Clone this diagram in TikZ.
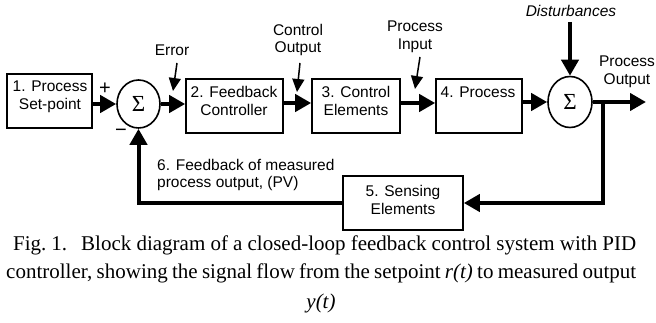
\documentclass[tikz,border=0pt]{standalone}
\usepackage{fontspec}
\setmainfont{Liberation Serif}
\setsansfont{Liberation Sans}
\usetikzlibrary{arrows.meta,shapes.geometric}
\begin{document}
\begin{tikzpicture}[x=1pt,y=-1pt,
  box/.style={draw,line width=1.6pt,inner sep=0pt},
  lbl/.style={font=\sffamily\fontsize{15.5}{17.5}\selectfont,align=center,inner sep=0pt},
  sign/.style={font=\sffamily\fontsize{20}{20}\selectfont,inner sep=0pt},
  sumnode/.style={draw,ellipse,line width=1.6pt,inner sep=0pt,font=\fontsize{23}{23}\selectfont},
  sig/.style={line width=4pt,-{Triangle[length=16pt,width=17pt]}},
  thinarrow/.style={line width=1.5pt,-{Triangle[length=13pt,width=12pt]}},
  capfont/.style={font=\fontsize{21}{21}\selectfont,inner sep=0pt}
]
\useasboundingbox (0,0) rectangle (656,323);

% blocks
\node[box,minimum width=85pt,minimum height=54pt] (b1) at (49.5,101) {};
\node[box,minimum width=97pt,minimum height=54pt] (b2) at (234.5,106) {};
\node[box,minimum width=88pt,minimum height=54pt] (b3) at (356,106) {};
\node[box,minimum width=86pt,minimum height=54pt] (b4) at (479,106) {};
\node[box,minimum width=120pt,minimum height=54pt] (b5) at (403,203) {};

% summing junctions
\node[sumnode,minimum width=43pt,minimum height=48pt] (s1) at (138.5,104) {Σ};
\node[sumnode,minimum width=44pt,minimum height=51pt] (s2) at (570,102) {Σ};

% block texts
\node[lbl] (t1) at (50,97) {1. Process\\Set-point};
\node[lbl] (t2) at (234,101) {2. Feedback\\Controller};
\node[lbl] (t3) at (356,101) {3. Control\\Elements};
\node[lbl] (t4) at (478,92) {4. Process};
\node[lbl] (t5) at (403,200) {5. Sensing\\Elements};

% signal connectors
\draw[sig] (b1.east |- s1.west) -- (s1.west);
\draw[sig] (s1.east) -- (s1.east -| b2.west);
\draw[sig] (b2.east |- 0,103) -- (b3.west |- 0,103);
\draw[sig] (b3.east |- 0,103) -- (b4.west |- 0,103);
\draw[sig] (b4.east |- s2.west) -- (s2.west);
\coordinate (out) at (646,102);
\coordinate (br) at (603,102);
\draw[sig] (s2.east) -- (out);
\draw[sig] (br) -- (br |- b5.east) -- (b5.east);
\draw[sig] (b5.west) -- (b5.west -| s1.south) -- (s1.south);
\coordinate (dist) at (570,22);
\draw[sig] (dist) -- (s2.north);

% labels
\node[lbl] (err) at (172,50) {Error};
\node[lbl] (co) at (298,40) {Control\\Output};
\node[lbl] (pin) at (415,37) {Process\\Input};
\node[lbl] (pout) at (627,72) {Process\\Output};
\node[lbl,font=\sffamily\itshape\fontsize{15.5}{17.5}\selectfont] (dis) at (571,11) {Disturbances};
\node[sign] (plus) at (105,89) {+};
\node[sign] (minus) at (121,133) {−};
\node[lbl,align=left,anchor=west] (fb) at (157,175) {6. Feedback of measured\\process output, (PV)};

% label arrows
\coordinate (e1) at (177,63);
\coordinate (e2) at (173,91);
\draw[thinarrow] (e1) -- (e2);
\coordinate (c1) at (300,63);
\coordinate (c2) at (297,92);
\draw[thinarrow] (c1) -- (c2);
\coordinate (p1) at (420,57);
\coordinate (p2) at (415,89);
\draw[thinarrow] (p1) -- (p2);

% caption
\node[capfont,anchor=base west] (cap1) at (13,251) {\makebox[623pt][s]{Fig.\hspace{5pt}1.\hspace{14pt}Block diagram of a closed-loop feedback control system with PID}};
\node[capfont,anchor=base west] (cap2) at (6,279) {\makebox[630pt][s]{controller, showing the signal flow from the setpoint \textit{r(t)} to measured output}};
\node[capfont,anchor=base] (cap3) at (321,308) {\textit{y(t)}};
\end{tikzpicture}
\end{document}
